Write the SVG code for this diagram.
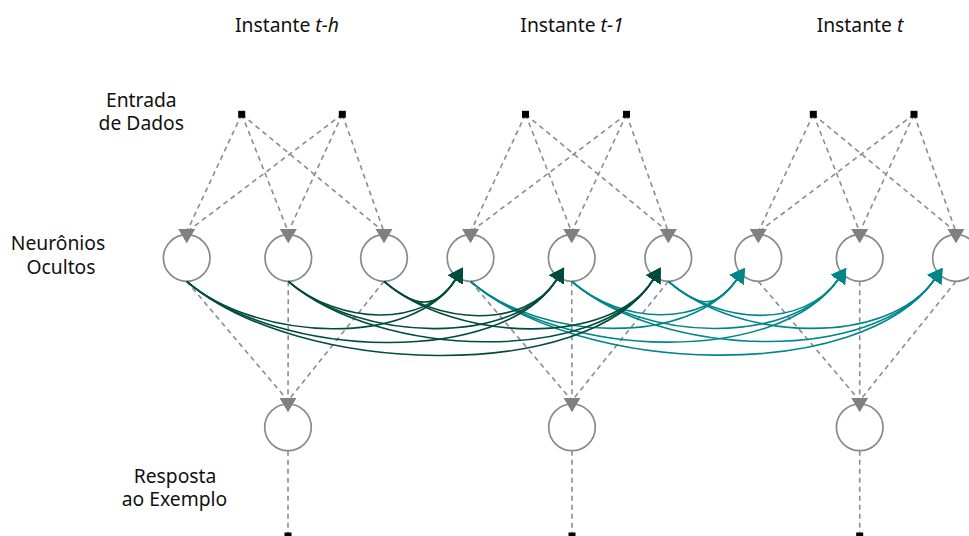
<svg xmlns="http://www.w3.org/2000/svg" width="969" height="536" viewBox="0 0 969 536">
  <defs>
    <style>
      .lbl{font-family:"Noto Sans","Open Sans","DejaVu Sans",sans-serif;font-size:19.3px;fill:#111;text-anchor:middle}
      .neuron{fill:#fff;stroke:#8a8a8a;stroke-width:1.7}
      .port{fill:#000}
      .dash{fill:none;stroke:#8c8c8c;stroke-width:1.6;stroke-dasharray:5 4}
      .arr{marker-end:url(#tri)}
      .rec-a{fill:none;stroke:#004c3c;stroke-width:1.6;marker-end:url(#headA)}
      .rec-b{fill:none;stroke:#00868a;stroke-width:1.6;marker-end:url(#headB)}
    </style>
    <marker id="tri" markerUnits="userSpaceOnUse" viewBox="0 -9 15 18" markerWidth="15" markerHeight="18" refX="3" refY="0" orient="90">
      <path d="M0,-8.3 L14,0 L0,8.3 z" fill="#808080"/>
    </marker>
    <marker id="headA" markerUnits="userSpaceOnUse" viewBox="0 -9 15 18" markerWidth="15" markerHeight="18" refX="0.5" refY="0" orient="auto">
      <path d="M0,-8.7 L14.5,0 L0,8.7 z" fill="#004c3c"/>
    </marker>
    <marker id="headB" markerUnits="userSpaceOnUse" viewBox="0 -9 15 18" markerWidth="15" markerHeight="18" refX="0.5" refY="0" orient="auto">
      <path d="M0,-8.7 L14.5,0 L0,8.7 z" fill="#00868a"/>
    </marker>
  </defs>

  <!-- labels -->
  <g id="labels">
    <text class="lbl" x="287" y="31.5">Instante <tspan font-style="italic">t-h</tspan></text>
    <text class="lbl" x="572" y="31.5">Instante <tspan font-style="italic">t-1</tspan></text>
    <text class="lbl" x="860" y="31.5">Instante <tspan font-style="italic">t</tspan></text>
    <text class="lbl" x="141.3" y="106.5">Entrada</text>
    <text class="lbl" x="141.3" y="130">de Dados</text>
    <text class="lbl" x="58" y="249.5">Neurônios</text>
    <text class="lbl" x="61" y="273.5">Ocultos</text>
    <text class="lbl" x="175" y="482.5">Resposta</text>
    <text class="lbl" x="174.5" y="506">ao Exemplo</text>
  </g>

  <!-- hidden neurons -->
  <g id="hidden-th-1"><circle class="neuron" cx="186.7" cy="258" r="23.3"/></g>
  <g id="hidden-th-2"><circle class="neuron" cx="288.3" cy="258" r="23.3"/></g>
  <g id="hidden-th-3"><circle class="neuron" cx="384" cy="258" r="23.3"/></g>
  <g id="hidden-t1-1"><circle class="neuron" cx="470.5" cy="258" r="23.3"/></g>
  <g id="hidden-t1-2"><circle class="neuron" cx="571.7" cy="258" r="23.3"/></g>
  <g id="hidden-t1-3"><circle class="neuron" cx="668.3" cy="258" r="23.3"/></g>
  <g id="hidden-t-1"><circle class="neuron" cx="758.3" cy="258" r="23.3"/></g>
  <g id="hidden-t-2"><circle class="neuron" cx="859.7" cy="258" r="23.3"/></g>
  <g id="hidden-t-3"><circle class="neuron" cx="956" cy="258" r="23.3"/></g>

  <!-- output neurons -->
  <g id="out-th"><circle class="neuron" cx="288" cy="427.3" r="23.3"/></g>
  <g id="out-t1"><circle class="neuron" cx="572" cy="427.3" r="23.3"/></g>
  <g id="out-t"><circle class="neuron" cx="859.7" cy="427.3" r="23.3"/></g>

  <!-- connectors -->
  <g id="connectors">
    <!-- inputs to hidden -->
    <g class="dash arr">
      <line x1="241.7" y1="114.3" x2="186.7" y2="232"/>
      <line x1="241.7" y1="114.3" x2="288.3" y2="232"/>
      <line x1="241.7" y1="114.3" x2="384" y2="232"/>
      <line x1="342.3" y1="114.3" x2="186.7" y2="232"/>
      <line x1="342.3" y1="114.3" x2="288.3" y2="232"/>
      <line x1="342.3" y1="114.3" x2="384" y2="232"/>
      <line x1="525.5" y1="114.3" x2="470.5" y2="232"/>
      <line x1="525.5" y1="114.3" x2="571.7" y2="232"/>
      <line x1="525.5" y1="114.3" x2="668.3" y2="232"/>
      <line x1="626.5" y1="114.3" x2="470.5" y2="232"/>
      <line x1="626.5" y1="114.3" x2="571.7" y2="232"/>
      <line x1="626.5" y1="114.3" x2="668.3" y2="232"/>
      <line x1="813.3" y1="114.3" x2="758.3" y2="232"/>
      <line x1="813.3" y1="114.3" x2="859.7" y2="232"/>
      <line x1="813.3" y1="114.3" x2="956" y2="232"/>
      <line x1="914" y1="114.3" x2="758.3" y2="232"/>
      <line x1="914" y1="114.3" x2="859.7" y2="232"/>
      <line x1="914" y1="114.3" x2="956" y2="232"/>
      <!-- hidden to output -->
      <line x1="186.7" y1="281.3" x2="288" y2="400.7"/>
      <line x1="288.3" y1="281.3" x2="288" y2="400.7"/>
      <line x1="384" y1="281.3" x2="288" y2="400.7"/>
      <line x1="470.5" y1="281.3" x2="572" y2="400.7"/>
      <line x1="571.7" y1="281.3" x2="572" y2="400.7"/>
      <line x1="668.3" y1="281.3" x2="572" y2="400.7"/>
      <line x1="758.3" y1="281.3" x2="859.7" y2="400.7"/>
      <line x1="859.7" y1="281.3" x2="859.7" y2="400.7"/>
      <line x1="956" y1="281.3" x2="859.7" y2="400.7"/>
    </g>
    <!-- output to response -->
    <g class="dash">
      <line x1="288" y1="450.7" x2="288" y2="533"/>
      <line x1="572" y1="450.7" x2="572" y2="533"/>
      <line x1="859.7" y1="450.7" x2="859.7" y2="533"/>
    </g>

    <!-- recurrent links t-1 to t -->
    <g class="rec-b">
      <path d="M470.5,281.3 C541,342.2 689.8,346.6 736.8,279.5"/>
      <path d="M470.5,281.3 C561.1,359.5 777.8,365.8 838.2,279.5"/>
      <path d="M470.5,281.3 C580.2,376.1 861.4,384 934.5,279.5"/>
      <path d="M571.7,281.3 C622.1,324.9 703.2,327.5 736.8,279.5"/>
      <path d="M571.7,281.3 C642.2,342.2 791.2,346.7 838.2,279.5"/>
      <path d="M571.7,281.3 C661.3,358.7 874.7,364.9 934.5,279.5"/>
      <path d="M668.3,281.3 C699.5,308.3 716,309.3 736.8,279.5"/>
      <path d="M668.3,281.3 C719.6,325.6 804,328.4 838.2,279.5"/>
      <path d="M668.3,281.3 C738.8,342.2 887.5,346.6 934.5,279.5"/>
    </g>
    <!-- recurrent links t-h to t-1 -->
    <g class="rec-a">
      <path d="M186.7,281.3 C257.7,342.6 413.6,347.1 455.5,279.5"/>
      <path d="M186.7,281.3 C277.8,360 502.9,366.2 556.7,279.5"/>
      <path d="M186.7,281.3 C297,376.6 588.2,384.5 653.3,279.5"/>
      <path d="M288.3,281.3 C339.2,325.2 425.5,327.9 455.5,279.5"/>
      <path d="M288.3,281.3 C359.2,342.5 514.8,347 556.7,279.5"/>
      <path d="M288.3,281.3 C378.4,359.2 600.1,365.3 653.3,279.5"/>
      <path d="M384,281.3 C415.8,308.8 436.7,309.8 455.5,279.5"/>
      <path d="M384,281.3 C435.9,326.1 526.1,328.9 556.7,279.5"/>
      <path d="M384,281.3 C455.1,342.8 611.3,347.3 653.3,279.5"/>
    </g>
  </g>

  <!-- input ports -->
  <g id="in-th-1"><rect class="port" x="238.2" y="110.8" width="7" height="7"/></g>
  <g id="in-th-2"><rect class="port" x="338.8" y="110.8" width="7" height="7"/></g>
  <g id="in-t1-1"><rect class="port" x="522" y="110.8" width="7" height="7"/></g>
  <g id="in-t1-2"><rect class="port" x="623" y="110.8" width="7" height="7"/></g>
  <g id="in-t-1"><rect class="port" x="809.8" y="110.8" width="7" height="7"/></g>
  <g id="in-t-2"><rect class="port" x="910.5" y="110.8" width="7" height="7"/></g>

  <!-- response ports -->
  <g id="resp-th"><rect class="port" x="284.5" y="532.5" width="7" height="7"/></g>
  <g id="resp-t1"><rect class="port" x="568.5" y="532.5" width="7" height="7"/></g>
  <g id="resp-t"><rect class="port" x="856.2" y="532.5" width="7" height="7"/></g>
</svg>
